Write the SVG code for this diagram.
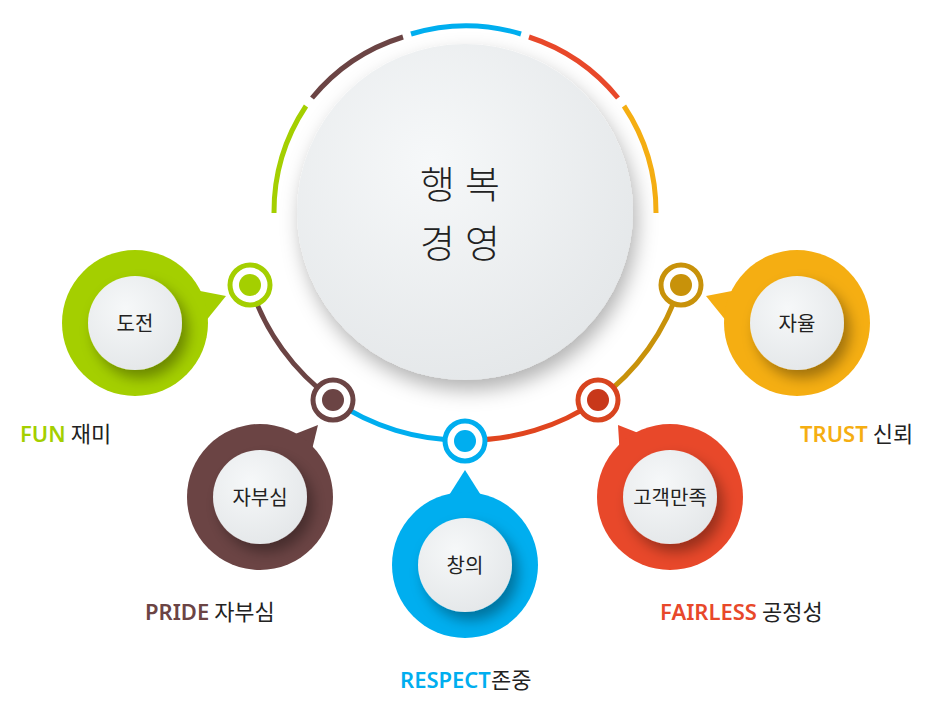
<svg xmlns="http://www.w3.org/2000/svg" width="934" height="709" viewBox="0 0 934 709">
<defs>
<filter id="sh" x="-40%" y="-40%" width="180%" height="180%"><feDropShadow dx="6" dy="8" stdDeviation="7" flood-color="#000" flood-opacity="0.35"/></filter>
<filter id="sh2" x="-40%" y="-40%" width="180%" height="180%"><feDropShadow dx="4" dy="10" stdDeviation="10" flood-color="#000" flood-opacity="0.3"/></filter>
<radialGradient id="wg" cx="40%" cy="35%" r="70%"><stop offset="0" stop-color="#f6f8f9"/><stop offset="1" stop-color="#e4e7e9"/></radialGradient>
<style>
.t{font-family:"Noto Sans CJK KR","Noto Sans",sans-serif;fill:#222;font-weight:400}
.l{font-family:"Noto Sans","Noto Sans CJK KR",sans-serif;font-size:22px}
.e{font-weight:600}
.arc{fill:none;stroke-width:5}
</style>
</defs>
<rect width="934" height="709" fill="#fff"/>
<g id="connectors">
<path class="arc" stroke="#a4cf00" d="M274,213 A191,191 0 0 1 306,106"/>
<path class="arc" stroke="#6b4444" d="M312,98 A191,191 0 0 1 403,37"/>
<path class="arc" stroke="#00aeef" d="M411,34 A191,191 0 0 1 521,34"/>
<path class="arc" stroke="#e8482a" d="M529,37 A191,191 0 0 1 618,98"/>
<path class="arc" stroke="#f5ae12" d="M624,106 A191,191 0 0 1 656,213"/>
<path class="arc" stroke="#6b4444" d="M250,285 A227,227 0 0 0 333,400"/>
<path class="arc" stroke="#00aeef" d="M333,400 A227,227 0 0 0 465,440"/>
<path class="arc" stroke="#e0451f" d="M465,440 A227,227 0 0 0 598,400"/>
<path class="arc" stroke="#c8920a" d="M598,400 A227,227 0 0 0 680,285"/>
</g>
<g id="center">
<circle cx="465" cy="212" r="168" fill="url(#wg)" filter="url(#sh2)"/>
<text class="t" x="465" y="198" font-size="38" text-anchor="middle" letter-spacing="10" style="font-weight:300">행복</text>
<text class="t" x="465" y="257" font-size="38" text-anchor="middle" letter-spacing="10" style="font-weight:300">경영</text>
</g>
<g id="ring-nodes">
<g><circle cx="250" cy="285" r="20" fill="#fff" stroke="#a4cf00" stroke-width="5"/><circle cx="250" cy="285" r="11" fill="#a4cf00"/></g>
<g><circle cx="333" cy="400" r="20" fill="#fff" stroke="#6b4444" stroke-width="5"/><circle cx="333" cy="400" r="11" fill="#6b4444"/></g>
<g><circle cx="465" cy="441" r="20" fill="#fff" stroke="#00aeef" stroke-width="5"/><circle cx="465" cy="441" r="11" fill="#00aeef"/></g>
<g><circle cx="598" cy="400" r="20" fill="#fff" stroke="#d8441f" stroke-width="5"/><circle cx="598" cy="400" r="11" fill="#c8381a"/></g>
<g><circle cx="681" cy="285" r="20" fill="#fff" stroke="#c8920a" stroke-width="5"/><circle cx="681" cy="285" r="11" fill="#c8920a"/></g>
</g>
<g id="fun">
<path d="M195,290 L226,296 L205,322 Z" fill="#a4cf00"/>
<circle cx="135" cy="323" r="73" fill="#a4cf00"/>
<circle cx="135" cy="323" r="47" fill="url(#wg)" filter="url(#sh)"/>
<text class="t" x="135" y="331" font-size="20" text-anchor="middle">도전</text>
<text class="l" x="20" y="442"><tspan class="e" fill="#a4cf00">FUN</tspan><tspan class="t"> 재미</tspan></text>
</g>
<g id="pride">
<path d="M290,436 L318,425 L310,458 Z" fill="#6b4444"/>
<circle cx="260" cy="497" r="73" fill="#6b4444"/>
<circle cx="260" cy="497" r="47" fill="url(#wg)" filter="url(#sh)"/>
<text class="t" x="260" y="505" font-size="20" text-anchor="middle">자부심</text>
<text class="l" x="145" y="620"><tspan class="e" fill="#6b4444">PRIDE</tspan><tspan class="t"> 자부심</tspan></text>
</g>
<g id="respect">
<path d="M465,470 L484,500 L446,500 Z" fill="#00aeef"/>
<circle cx="465" cy="565" r="73" fill="#00aeef"/>
<circle cx="465" cy="565" r="47" fill="url(#wg)" filter="url(#sh)"/>
<text class="t" x="465" y="573" font-size="20" text-anchor="middle">창의</text>
<text class="l" x="400" y="688"><tspan class="e" fill="#00aeef">RESPECT</tspan><tspan class="t">존중</tspan></text>
</g>
<g id="fairless">
<path d="M618,425 L646,436 L620,458 Z" fill="#e8482a"/>
<circle cx="670" cy="497" r="73" fill="#e8482a"/>
<circle cx="670" cy="497" r="47" fill="url(#wg)" filter="url(#sh)"/>
<text class="t" x="670" y="505" font-size="20" text-anchor="middle">고객만족</text>
<text class="l" x="660" y="620"><tspan class="e" fill="#e8482a">FAIRLESS</tspan><tspan class="t"> 공정성</tspan></text>
</g>
<g id="trust">
<path d="M737,290 L706,296 L727,322 Z" fill="#f5ae12"/>
<circle cx="797" cy="323" r="73" fill="#f5ae12"/>
<circle cx="797" cy="323" r="47" fill="url(#wg)" filter="url(#sh)"/>
<text class="t" x="797" y="331" font-size="20" text-anchor="middle">자율</text>
<text class="l" x="800" y="442"><tspan class="e" fill="#f5ae12">TRUST</tspan><tspan class="t"> 신뢰</tspan></text>
</g>
</svg>
